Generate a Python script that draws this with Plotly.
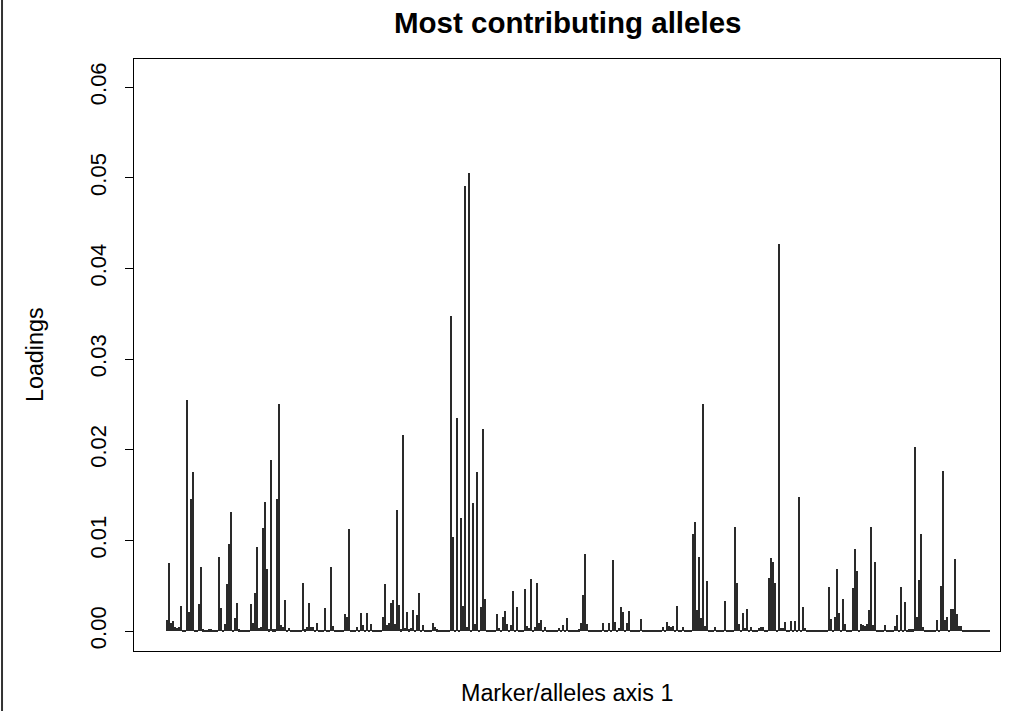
import plotly.graph_objects as go

# Loadings of alleles on axis 1 (in allele order)
loadings = [
    .0012, .0075, .0009, .0011, .0004, .0003, .0004, .0028, .0001, .0001,
    .0255, .0021, .0146, .0176, .0001, .0001, .0030, .0071, .0002, .0001,
    .0001, .0002, .0002, .0001, .0001, .0001, .0082, .0025, .0001, .0008,
    .0052, .0096, .0131, .0001, .0014, .0031, .0002, .0001, .0001, .0001,
    .0001, .0001, .0030, .0009, .0042, .0093, .0003, .0005, .0114, .0142,
    .0069, .0002, .0189, .0002, .0002, .0146, .0250, .0007, .0005, .0034,
    .0001, .0003, .0001, .0001, .0001, .0001, .0001, .0001, .0053, .0002,
    .0005, .0031, .0005, .0005, .0001, .0009, .0001, .0001, .0001, .0025,
    .0001, .0001, .0071, .0006, .0001, .0001, .0001, .0001, .0001, .0019,
    .0016, .0113, .0001, .0001, .0001, .0005, .0001, .0020, .0007, .0001,
    .0020, .0001, .0008, .0001, .0001, .0001, .0001, .0001, .0016, .0052,
    .0007, .0009, .0031, .0034, .0008, .0133, .0029, .0002, .0216, .0003,
    .0021, .0002, .0003, .0023, .0001, .0018, .0042, .0001, .0007, .0001,
    .0001, .0001, .0001, .0009, .0005, .0002, .0001, .0001, .0001, .0001,
    .0001, .0001, .0347, .0104, .0001, .0235, .0001, .0125, .0028, .0491,
    .0005, .0505, .0001, .0141, .0008, .0176, .0001, .0027, .0223, .0035,
    .0001, .0001, .0001, .0001, .0001, .0019, .0003, .0001, .0016, .0022,
    .0008, .0001, .0007, .0044, .0001, .0027, .0001, .0001, .0001, .0046,
    .0006, .0003, .0057, .0001, .0004, .0053, .0009, .0012, .0001, .0005,
    .0001, .0001, .0001, .0001, .0001, .0001, .0003, .0001, .0007, .0001,
    .0014, .0001, .0001, .0001, .0001, .0001, .0002, .0009, .0040, .0085,
    .0008, .0001, .0001, .0001, .0001, .0001, .0001, .0001, .0009, .0001,
    .0001, .0009, .0001, .0078, .0010, .0001, .0003, .0026, .0021, .0001,
    .0009, .0022, .0001, .0001, .0001, .0001, .0001, .0013, .0001, .0001,
    .0001, .0001, .0001, .0001, .0001, .0001, .0001, .0001, .0005, .0001,
    .0010, .0006, .0004, .0006, .0001, .0028, .0001, .0001, .0004, .0001,
    .0001, .0001, .0001, .0107, .0120, .0023, .0082, .0014, .0251, .0006,
    .0055, .0001, .0001, .0001, .0004, .0001, .0001, .0001, .0001, .0033,
    .0001, .0001, .0001, .0001, .0115, .0053, .0008, .0001, .0020, .0003,
    .0024, .0001, .0004, .0001, .0001, .0001, .0003, .0005, .0005, .0001,
    .0001, .0059, .0081, .0076, .0053, .0001, .0427, .0003, .0003, .0010,
    .0001, .0001, .0011, .0001, .0011, .0001, .0148, .0001, .0026, .0003,
    .0001, .0001, .0001, .0001, .0001, .0001, .0001, .0001, .0001, .0001,
    .0001, .0049, .0013, .0001, .0016, .0069, .0020, .0001, .0035, .0008,
    .0001, .0001, .0001, .0048, .0091, .0066, .0001, .0008, .0007, .0006,
    .0008, .0023, .0115, .0007, .0076, .0001, .0001, .0001, .0001, .0007,
    .0001, .0001, .0001, .0001, .0006, .0018, .0001, .0049, .0001, .0032,
    .0001, .0002, .0002, .0002, .0203, .0016, .0056, .0107, .0005, .0001,
    .0001, .0001, .0001, .0001, .0001, .0012, .0001, .0050, .0177, .0012,
    .0015, .0001, .0024, .0024, .0080, .0019, .0006, .0006, .0001, .0001,
    .0001, .0001, .0001, .0001, .0001, .0001, .0001, .0001, .0001, .0001,
    .0001, .0001,
]
allele_index = list(range(1, len(loadings) + 1))

y_ticks = [0.00, 0.01, 0.02, 0.03, 0.04, 0.05, 0.06]
y_tick_labels = ["0.00", "0.01", "0.02", "0.03", "0.04", "0.05", "0.06"]

title_text = "Most contributing alleles"
x_title = "Marker/alleles axis 1"
y_title = "Loadings"

FONT = "Liberation Sans, Arial, sans-serif"

fig = go.Figure()
fig.add_trace(go.Bar(
    x=allele_index, y=loadings, width=0.6,
    marker=dict(color="#2a2a2a", line=dict(width=0)),
    hoverinfo="x+y",
))

fig.update_layout(
    width=1014, height=711,
    margin=dict(l=134, r=14, t=59, b=60),
    paper_bgcolor="white", plot_bgcolor="white",
    showlegend=False, bargap=0,
    font=dict(family=FONT, color="black"),
)
fig.update_xaxes(
    range=[-15.65, 417.35], showgrid=False, zeroline=False,
    showticklabels=False, ticks="",
    showline=True, mirror=True, linecolor="black", linewidth=1,
)
fig.update_yaxes(
    range=[-0.0022, 0.0631], showgrid=False, zeroline=False,
    tickvals=y_ticks, ticktext=y_tick_labels, tickangle=-90,
    ticks="outside", ticklen=8, tickwidth=1, tickcolor="black",
    ticklabelstandoff=10,
    tickfont=dict(family=FONT, size=22, color="black"),
    showline=True, mirror=True, linecolor="black", linewidth=1,
)

fig.add_annotation(text="<b>" + title_text + "</b>", xref="paper", yref="paper",
                   x=0.5, y=1.0625, showarrow=False, xanchor="center", yanchor="middle",
                   font=dict(family=FONT, size=29.5, color="black"))
fig.add_annotation(text=x_title, xref="paper", yref="paper",
                   x=0.5, y=-0.0709, showarrow=False, xanchor="center", yanchor="middle",
                   font=dict(family=FONT, size=23.3, color="black"))
fig.add_annotation(text=y_title, xref="paper", yref="paper", textangle=-90,
                   x=-0.1143, y=0.5, showarrow=False, xanchor="center", yanchor="middle",
                   font=dict(family=FONT, size=23.3, color="black"))
# page edge line at the far left of the image
fig.add_shape(type="line", xref="paper", yref="paper",
              x0=-0.1524, x1=-0.1524, y0=-0.102, y1=1.1,
              line=dict(color="#333333", width=2))

fig.write_html("out.html", config={"displayModeBar": False},
               post_script="document.body.style.margin='0';")
